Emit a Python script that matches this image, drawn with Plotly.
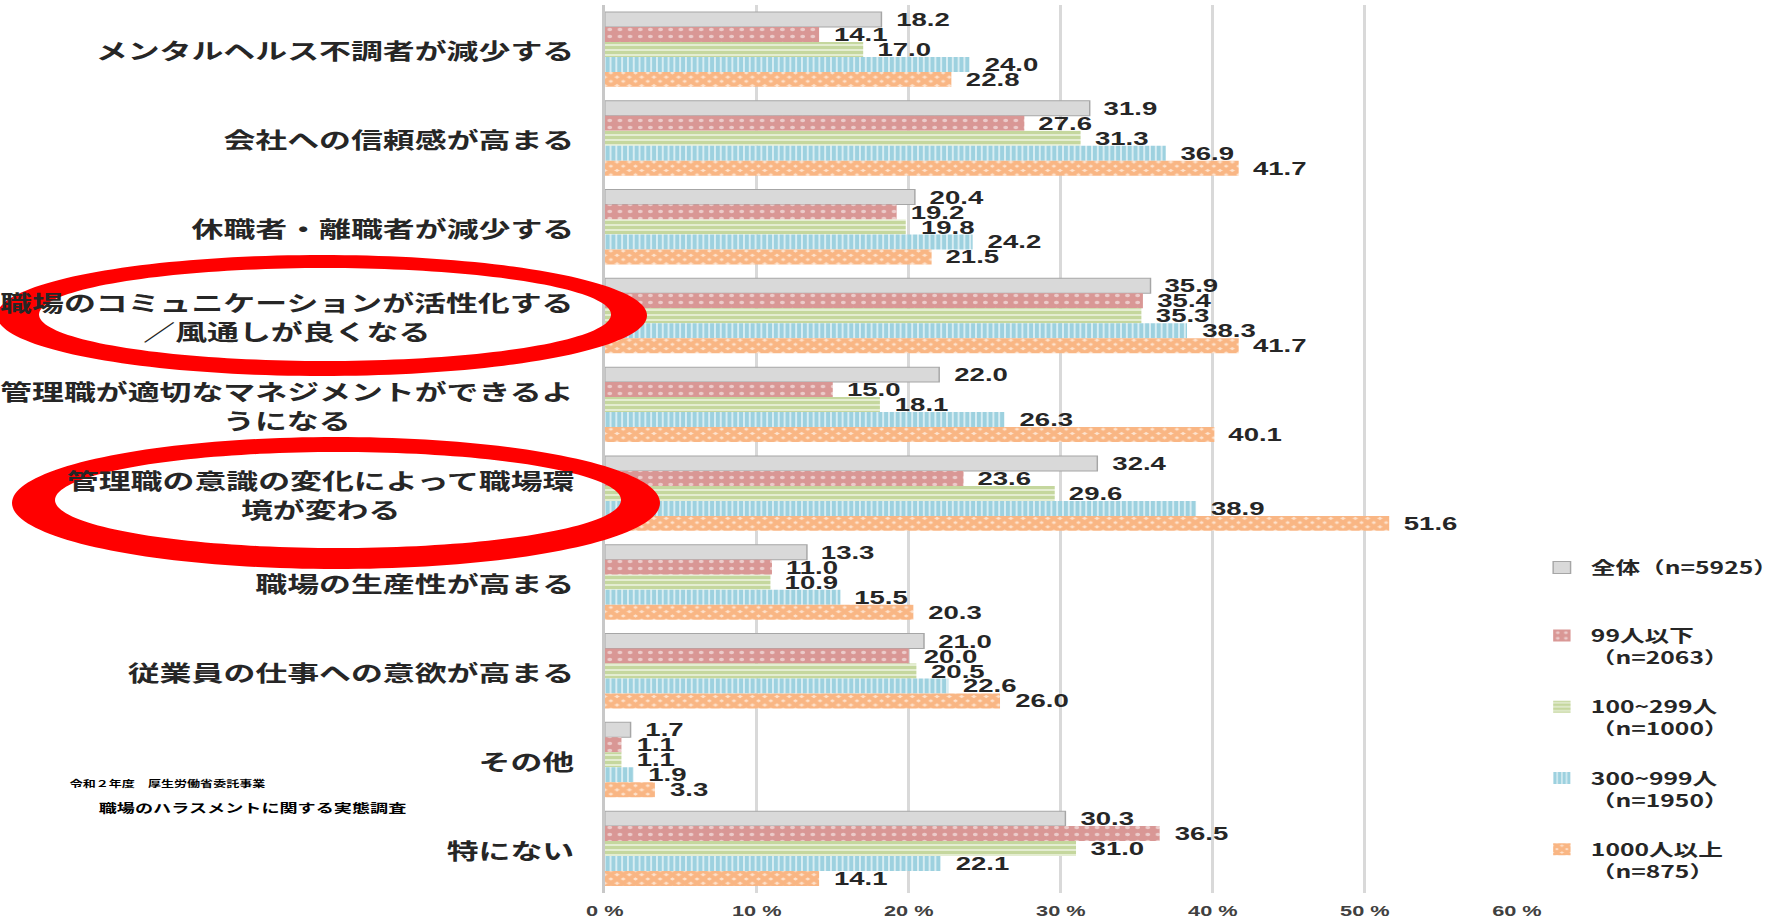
import numpy as np
import plotly.graph_objects as go

# ---------------- data ----------------
categories = [
    "メンタルヘルス不調者が減少する",
    "会社への信頼感が高まる",
    "休職者・離職者が減少する",
    "職場のコミュニケーションが活性化する<br>／風通しが良くなる",
    "管理職が適切なマネジメントができるよ<br>うになる",
    "管理職の意識の変化によって職場環<br>境が変わる",
    "職場の生産性が高まる",
    "従業員の仕事への意欲が高まる",
    "その他",
    "特にない",
]
series_names = [
    "全体（n=5925）",
    "99人以下<br>（n=2063）",
    "100~299人<br>（n=1000）",
    "300~999人<br>（n=1950）",
    "1000人以上<br>（n=875）",
]
v_all = [18.2, 31.9, 20.4, 35.9, 22.0, 32.4, 13.3, 21.0, 1.7, 30.3]
v_99 = [14.1, 27.6, 19.2, 35.4, 15.0, 23.6, 11.0, 20.0, 1.1, 36.5]
v_100 = [17.0, 31.3, 19.8, 35.3, 18.1, 29.6, 10.9, 20.5, 1.1, 31.0]
v_300 = [24.0, 36.9, 24.2, 38.3, 26.3, 38.9, 15.5, 22.6, 1.9, 22.1]
v_1000 = [22.8, 41.7, 21.5, 41.7, 40.1, 51.6, 20.3, 26.0, 3.3, 14.1]
series_values = [v_all, v_99, v_100, v_300, v_1000]
tick_vals = [0, 10, 20, 30, 40, 50, 60]
tick_labels = ["0 %", "10 %", "20 %", "30 %", "40 %", "50 %", "60 %"]
notes = ["令和２年度　厚生労働省委託事業", "職場のハラスメントに関する実態調査"]

# ---------------- geometry ----------------
W_OUT, H = 1791, 919
STRETCH = 1.45
W = round(W_OUT / STRETCH)
S = W_OUT / W
ML, MR, MT, MB = 417, 189, 5, 26
PW = W - ML - MR
PH = H - MT - MB
BARGAP = 0.156
BAR_PX = PH / len(categories) * (1 - BARGAP) / len(series_names)


def px_x(xf):
    return (xf / S - ML) / PW


def px_y(yf):
    return (H - MB - yf) / PH


def ring_path(outer, inner, n=180):
    t = np.linspace(0, 2 * np.pi, n, endpoint=False)

    def loop(e, rev):
        cx, cy, rx, ry = e
        tt = t[::-1] if rev else t
        pts = [f"{px_x(cx + rx * np.cos(a)):.5f},{px_y(cy + ry * np.sin(a)):.5f}" for a in tt]
        return "M" + " L".join(pts) + " Z"

    return loop(outer, False) + " " + loop(inner, True)


JP = "Noto Sans CJK JP"
NUM = "Arial, 'Liberation Sans', sans-serif"
TXT = "#262626"

styles = [
    dict(color="#D9D9D9", line=dict(color="#A6A6A6", width=1)),
    dict(color="#D99795", line=dict(width=0),
         pattern=dict(shape=".", fgcolor="#FFFFFF", bgcolor="#D99795", size=7, solidity=0.18)),
    dict(color="#9BBB59", line=dict(width=0),
         pattern=dict(shape="-", fgcolor="#9BBB59", bgcolor="#EEF3E2", size=5, solidity=0.7)),
    dict(color="#4BACC6", line=dict(width=0),
         pattern=dict(shape="|", fgcolor="#3BA3C0", bgcolor="#FFFFFF", size=4, solidity=0.8)),
    dict(color="#F79646", line=dict(width=0),
         pattern=dict(shape="x", fgcolor="#F58A3A", bgcolor="#FDE3CF", size=6, solidity=0.85)),
]

fig = go.Figure()
for i, (name, vals) in enumerate(zip(series_names, series_values)):
    fig.add_trace(go.Bar(
        y=categories, x=vals, name=name, orientation="h",
        marker=styles[i], legend="legend" if i == 0 else "legend2",
        legendgroup=f"g{i}", hoverinfo="skip", showlegend=True,
    ))

annotations = []
# value labels
for i, vals in enumerate(series_values):
    for cat, v in zip(categories, vals):
        annotations.append(dict(
            x=v, y=cat, xref="x", yref="y", text=f"{v:.1f}", showarrow=False,
            xanchor="left", yanchor="middle", xshift=8, yshift=(2 - i) * BAR_PX,
            font=dict(family=NUM, size=19, color=TXT, weight="bold"),
        ))
# category labels
for cat in categories:
    annotations.append(dict(
        x=0, y=cat, xref="paper", yref="y", text=cat, showarrow=False,
        xanchor="right", yanchor="middle", align="center", xshift=-19,
        font=dict(family=JP, size=22, color=TXT, weight="bold"),
    ))
# notes
annotations.append(dict(
    x=px_x(66), y=px_y(783), xref="paper", yref="paper", text=notes[0], showarrow=False,
    xanchor="left", yanchor="middle", font=dict(family=JP, size=9, color="#000000", weight="bold"),
))
annotations.append(dict(
    x=px_x(95), y=px_y(807), xref="paper", yref="paper", text=notes[1], showarrow=False,
    xanchor="left", yanchor="middle", font=dict(family=JP, size=12.5, color="#000000", weight="bold"),
))

shapes = [
    dict(type="path", xref="paper", yref="paper", layer="above",
         path=ring_path((322, 315.5, 325, 60.5), (325, 314.5, 286, 46.5)),
         fillcolor="#FF0000", fillrule="evenodd", line=dict(width=0)),
    dict(type="path", xref="paper", yref="paper", layer="above",
         path=ring_path((336, 503, 324, 66), (338, 500, 283, 48)),
         fillcolor="#FF0000", fillrule="evenodd", line=dict(width=0)),
]

legend_font = dict(family=JP, size=17, color=TXT, weight="bold")
fig.update_layout(
    width=W, height=H,
    margin=dict(l=ML, r=MR, t=MT, b=MB),
    showlegend=True,
    barmode="group", bargap=BARGAP, bargroupgap=0,
    plot_bgcolor="white", paper_bgcolor="white",
    xaxis=dict(range=[0, 60], tickvals=tick_vals, ticktext=tick_labels, automargin=False,
               showgrid=True, gridcolor="#D9D9D9", gridwidth=1.5, zeroline=False,
               ticks="outside", ticklen=4, tickcolor="rgba(0,0,0,0)",
               tickfont=dict(family=NUM, size=15, color="#404040", weight="bold")),
    yaxis=dict(categoryorder="array", categoryarray=categories, autorange="reversed",
               automargin=False,
               showticklabels=False, showline=True, linecolor="#C8C8C8", linewidth=1.5,
               showgrid=False, zeroline=False, ticks=""),
    legend=dict(xref="container", yref="container", x=1057 / W, y=1 - 550 / H,
                xanchor="left", yanchor="top", valign="top", font=legend_font,
                bgcolor="rgba(0,0,0,0)", visible=True),
    legend2=dict(xref="container", yref="container", x=1057 / W, y=1 - 618 / H,
                 xanchor="left", yanchor="top", valign="top", font=legend_font,
                 tracegroupgap=24, bgcolor="rgba(0,0,0,0)", visible=True),
    annotations=annotations,
    shapes=shapes,
)

post = (
    "var gd=document.getElementById('{plot_id}');"
    "document.documentElement.style.margin='0';"
    "document.body.style.margin='0';"
    "document.body.style.overflow='hidden';"
    "gd.style.transformOrigin='0 0';"
    "gd.style.transform='scaleX(" + f"{S:.5f}" + ")';"
)
fig.write_html("out.html", post_script=post)
